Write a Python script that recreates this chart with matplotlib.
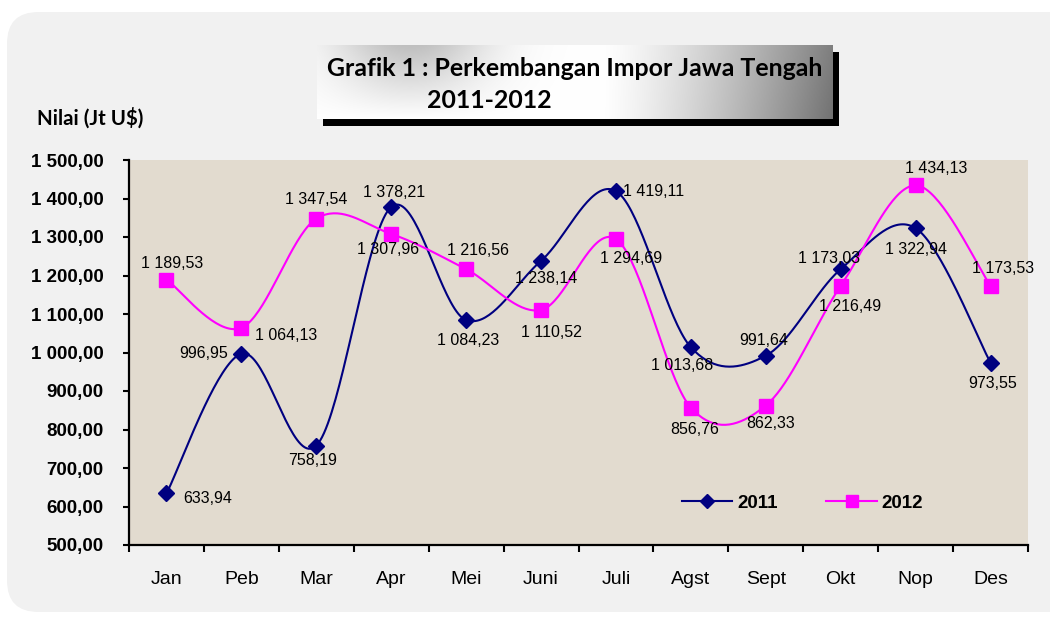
import numpy as np
import matplotlib
matplotlib.use("Agg")
import matplotlib.pyplot as plt
from matplotlib.patches import FancyBboxPatch, Rectangle
from matplotlib.lines import Line2D

months = ["Jan", "Peb", "Mar", "Apr", "Mei", "Juni", "Juli", "Agst", "Sept", "Okt", "Nop", "Des"]
v2011 = [633.94, 996.95, 758.19, 1378.21, 1084.23, 1238.14, 1419.11, 1013.68, 991.64, 1216.49, 1322.94, 973.55]
v2012 = [1189.53, 1064.13, 1347.54, 1307.96, 1216.56, 1110.52, 1294.69, 856.76, 862.33, 1173.03, 1434.13, 1173.53]
yticks = [500, 600, 700, 800, 900, 1000, 1100, 1200, 1300, 1400, 1500]
series_names = ["2011", "2012"]
title1 = "Grafik 1 : Perkembangan Impor Jawa Tengah"
title2 = "2011-2012"
ylabel = "Nilai (Jt U$)"

# label offsets in pixels (dx right, dy down) relative to each marker
off2011 = [(41, 5), (-38, 0), (-4, 15), (3, -14), (2, 20), (5, 18), (38, 0),
           (-9, 18), (-2, -15), (9, 37), (0, 21), (2, 21)]
off2012 = [(6, -16), (45, 8), (0, -19), (-3, 16), (12, -19), (10, 23), (15, 19),
           (4, 22), (5, 18), (-12, -27), (21, -17), (13, -17)]

W, H = 1050, 617
fig = plt.figure(figsize=(W / 100, H / 100), dpi=100, facecolor="white")


def fx(x):
    return x / W


def fy(y):
    return 1 - y / H


def fmt(v):
    return f"{v:,.2f}".replace(",", " ").replace(".", ",")


# outer rounded panel
panel = FancyBboxPatch((fx(7), fy(612)), fx(1100) - fx(7), fy(12) - fy(612),
                       boxstyle="round,pad=0,rounding_size=0.03",
                       transform=fig.transFigure, facecolor="#f1f1f1",
                       edgecolor="none", zorder=-5, mutation_aspect=W / H)
fig.patches.append(panel)

# title box shadow and gradient
bx0, bx1, by0, by1 = 317, 833, 45, 119
shadow = Rectangle((fx(bx0 + 6), fy(by1 + 7)), fx(bx1 - bx0), fy(by0) - fy(by1),
                   transform=fig.transFigure, facecolor="black", edgecolor="none", zorder=-4)
fig.patches.append(shadow)
tax = fig.add_axes([fx(bx0), fy(by1), fx(bx1 - bx0), fy(by0) - fy(by1)])
tax.set_zorder(1)
tax.set_axis_off()
gx = np.linspace(0, 1, 300)[None, :]
gy = np.linspace(0, 1, 60)[:, None]
base = np.where(gx < 0.55, 1.0 - 0.25 * np.exp(-((gx - 0.18) / 0.15) ** 2) * (1 - gy),
                1.0 - 0.5 * ((gx - 0.55) / 0.45) ** 1.3)
base = base - 0.05 * (gx > 0.55) * gy * ((gx - 0.55) / 0.45)
img = np.clip(base, 0, 1)
tax.imshow(np.dstack([img, img, img]), aspect="auto", extent=[0, 1, 0, 1], origin="upper")
tax.set_xlim(0, 1)
tax.set_ylim(0, 1)

fig.text(fx(575), fy(69), title1, ha="center", va="center", fontsize=17.9,
         fontweight="bold", family="Lato", color="black", zorder=10)
fig.text(fx(427), fy(101), title2, ha="left", va="center", fontsize=17.9,
         fontweight="bold", family="Lato", color="black", zorder=10)
fig.text(fx(37), fy(118), ylabel, ha="left", va="center", fontsize=14.8,
         fontweight="bold", family="Lato", color="black", zorder=10)

# main axes
ax = fig.add_axes([fx(129), fy(545), fx(1028 - 129), fy(160) - fy(545)])
ax.set_zorder(1)
ax.set_facecolor("#e2dbcf")
x = np.arange(len(months))


def smooth(xs, ys, n=40):
    pts = np.column_stack([xs, ys]).astype(float)
    out = []
    t = np.linspace(0, 1, n)[:, None]
    for i in range(len(pts) - 1):
        p0 = pts[i - 1] if i > 0 else pts[i]
        p1, p2 = pts[i], pts[i + 1]
        p3 = pts[i + 2] if i + 2 < len(pts) else pts[i + 1]
        c1 = p1 + (p2 - p0) / 6
        c2 = p2 - (p3 - p1) / 6
        seg = (1 - t) ** 3 * p1 + 3 * (1 - t) ** 2 * t * c1 + 3 * (1 - t) * t ** 2 * c2 + t ** 3 * p2
        out.append(seg if i == 0 else seg[1:])
    out = np.vstack(out)
    return out[:, 0], out[:, 1]


c2011, c2012 = "#000080", "#ff00ff"
sx, sy = smooth(x, v2011)
ax.plot(sx, sy, color=c2011, lw=1.5, zorder=3)
ax.plot(x, v2011, ls="none", marker="D", ms=8, color=c2011, zorder=4)
sx, sy = smooth(x, v2012)
ax.plot(sx, sy, color=c2012, lw=1.5, zorder=3)
ax.plot(x, v2012, ls="none", marker="s", ms=10.5, color=c2012, zorder=4)

for vals, offs in ((v2011, off2011), (v2012, off2012)):
    for i, (v, (dx, dy)) in enumerate(zip(vals, offs)):
        ax.annotate(fmt(v), (x[i], v), xytext=(dx * 0.72, -dy * 0.72),
                    textcoords="offset points", ha="center", va="center",
                    fontsize=11.5, family="Liberation Sans", color="black", zorder=5)

ax.set_xlim(-0.5, len(months) - 0.5)
ax.set_ylim(yticks[0], yticks[-1])
ax.set_yticks(yticks)
ax.set_yticklabels([fmt(v) for v in yticks], fontsize=13.5, fontweight="bold",
                   family="Liberation Sans")
ax.set_xticks(np.arange(-0.5, len(months), 1.0))
ax.set_xticklabels([])
ax.set_xticks(x, minor=True)
ax.set_xticklabels(months, minor=True, fontsize=14, family="Liberation Sans")
ax.tick_params(axis="x", which="major", direction="out", length=5, width=1.5)
ax.tick_params(axis="x", which="minor", length=0, pad=19)
ax.tick_params(axis="y", direction="out", length=4.5, width=1.5, pad=14)
for s in ("top", "right"):
    ax.spines[s].set_visible(False)
for s in ("left", "bottom"):
    ax.spines[s].set_linewidth(1.6)

handles = [Line2D([], [], color=c2011, lw=1.5, marker="D", ms=7),
           Line2D([], [], color=c2012, lw=1.5, marker="s", ms=9)]
leg = ax.legend(handles, series_names, ncol=2, frameon=False, loc="center",
                bbox_to_anchor=(0.749, 0.109), handlelength=2.7, handletextpad=0.25,
                columnspacing=2.6, prop={"family": "Liberation Sans", "weight": "bold", "size": 13.5})

fig.savefig("out.png", dpi=100, facecolor="white")
